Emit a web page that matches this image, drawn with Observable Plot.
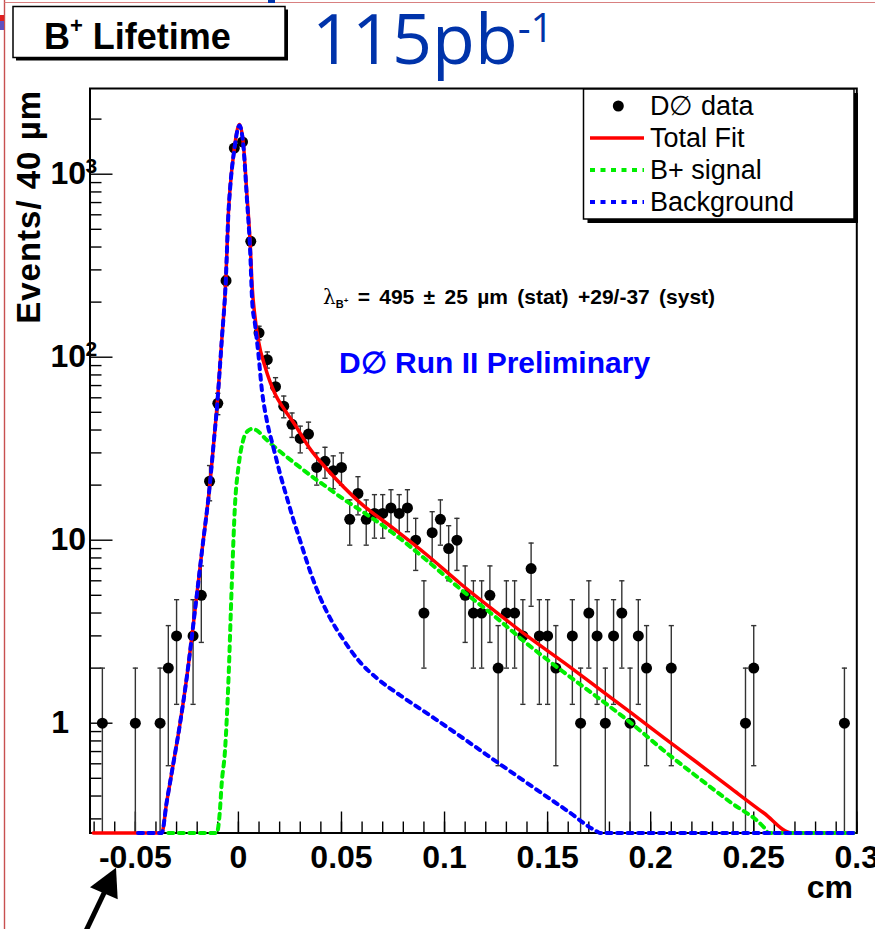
<!DOCTYPE html>
<html>
<head>
<meta charset="utf-8">
<script src="https://cdn.jsdelivr.net/npm/d3@7"></script>
<script src="https://cdn.jsdelivr.net/npm/@observablehq/plot@0.6"></script>
<style>
  html, body { margin: 0; padding: 0; background: #fff; }
  #chart { width: 875px; height: 929px; overflow: hidden; }
</style>
</head>
<body>
<div id="chart"></div>
<script>
// ---------- data ----------
// histogram bins (bin centre in cm) and counts per 40 µm
const binCenters = [-0.066, -0.050, -0.038, -0.034, -0.030, -0.022, -0.018, -0.014, -0.010, -0.006,
  -0.002, 0.002, 0.006, 0.010, 0.014, 0.018, 0.022, 0.026, 0.030, 0.034,
  0.038, 0.042, 0.046, 0.050, 0.054, 0.058, 0.062, 0.066, 0.070, 0.074,
  0.078, 0.082, 0.086, 0.090, 0.094, 0.098, 0.102, 0.106, 0.110, 0.114,
  0.118, 0.122, 0.126, 0.130, 0.134, 0.138, 0.142, 0.146, 0.150, 0.154,
  0.162, 0.166, 0.170, 0.174, 0.178, 0.182, 0.186, 0.190, 0.194, 0.198,
  0.210, 0.246, 0.250, 0.294];
const counts = [1, 1, 1, 2, 3, 3, 5, 21, 56, 262,
  1390, 1500, 430, 136, 97, 69, 54, 43, 36, 38,
  25, 27, 24, 25, 13, 18, 13, 14, 14, 15,
  14, 15, 10, 4, 11, 13, 9, 10, 5, 4,
  4, 5, 2, 4, 4, 3, 7, 3, 3, 2,
  3, 1, 4, 3, 1, 3, 4, 1, 3, 2,
  2, 1, 2, 1];

// Total fit (red)
const fitX = [-0.0704, -0.0372, -0.0348, -0.0316, -0.0283, -0.0250, -0.0210, -0.0178, -0.0137,
  -0.0121, -0.0102, -0.0081, -0.0061, -0.0049, -0.0040, -0.0021, 0.0005, 0.0024, 0.0041,
  0.0057, 0.0067, 0.0078, 0.0097, 0.0130, 0.0154, 0.0178, 0.0227, 0.0267, 0.0348,
  0.0429, 0.0591, 0.0752, 0.0915, 0.1076, 0.1238, 0.1400, 0.1578, 0.1740, 0.1901,
  0.2063, 0.2225, 0.2387, 0.2549, 0.2686, 0.2984];
const fitY = [0.25, 0.25, 0.37, 0.6, 1.0, 1.8, 4.2, 8.5, 21,
  33, 57, 123, 265, 600, 850, 1350, 1870, 1466, 781,
  420, 240, 175, 123, 88, 73, 63, 51, 44, 31.5,
  24.5, 16, 11.6, 8.3, 5.8, 4.15, 3.0, 2.15, 1.57, 1.15,
  0.835, 0.61, 0.443, 0.323, 0.25, 0.25];

// B+ signal (green)
const sigX = [-0.0340, -0.0105, -0.0091, -0.0081, -0.0065, -0.0049, -0.0032, -0.0016, 0.0000, 0.0024,
  0.0045, 0.0067, 0.0086, 0.0130, 0.0186, 0.0267, 0.0364, 0.0429, 0.0526, 0.0591,
  0.0688, 0.0752, 0.0915, 0.1076, 0.1238, 0.1400, 0.1578, 0.1740, 0.1901, 0.2063,
  0.2225, 0.2387, 0.2549, 0.2573, 0.2984];
const sigY = [0.25, 0.25, 0.32, 0.47, 0.71, 1.64, 5.8, 16, 25, 35.5,
  39.5, 40.6, 40, 36, 31.6, 26.7, 22, 19.5, 16.3, 14.6,
  12.3, 10.9, 7.74, 5.42, 3.88, 2.72, 1.9, 1.39, 1.01, 0.71,
  0.51, 0.37, 0.27, 0.25, 0.25];

// Background (blue)
const bkgX = [-0.0487, -0.0372, -0.0348, -0.0316, -0.0283, -0.0250, -0.0210, -0.0178, -0.0137,
  -0.0121, -0.0102, -0.0081, -0.0061, -0.0049, -0.0040, -0.0021, 0.0005, 0.0024, 0.0041,
  0.0057, 0.0067, 0.0081, 0.0097, 0.0114, 0.0138, 0.0170, 0.0202, 0.0235, 0.0267,
  0.0300, 0.0348, 0.0397, 0.0445, 0.0510, 0.0591, 0.0672, 0.0785, 0.0947,
  0.1109, 0.1271, 0.1432, 0.1594, 0.1740, 0.1756, 0.2984];
const bkgY = [0.25, 0.25, 0.37, 0.6, 1.0, 1.8, 4.2, 8.5, 21,
  33, 57, 123, 265, 598, 845, 1335, 1845, 1430, 742,
  380, 200, 150, 104, 66, 45, 32, 23.1, 17.1, 12.9,
  9.9, 6.75, 4.85, 3.75, 2.85, 2.15, 1.76, 1.42, 1.07,
  0.80, 0.595, 0.445, 0.333, 0.256, 0.25, 0.25];

// axes
const xTicks = [-0.05, 0, 0.05, 0.1, 0.15, 0.2, 0.25, 0.3];
const xTickLabels = ["-0.05", "0", "0.05", "0.1", "0.15", "0.2", "0.25", "0.3"];
const xMinorTicks = [-0.07, -0.06, -0.05, -0.04, -0.03, -0.02, -0.01, 0, 0.01, 0.02, 0.03, 0.04, 0.05, 0.06, 0.07, 0.08, 0.09, 0.1,
  0.11, 0.12, 0.13, 0.14, 0.15, 0.16, 0.17, 0.18, 0.19, 0.2, 0.21, 0.22, 0.23, 0.24, 0.25, 0.26, 0.27, 0.28, 0.29, 0.3];
const yTicks = [1, 10, 100, 1000];
const yTickBase = ["1", "10", "10", "10"];
const yTickExp = ["", "", "2", "3"];
const yMinorTicks = [0.3, 0.4, 0.5, 0.6, 0.7, 0.8, 0.9, 2, 3, 4, 5, 6, 7, 8, 9, 20, 30, 40, 50, 60, 70, 80, 90,
  200, 300, 400, 500, 600, 700, 800, 900, 2000];

const legendLabels = ["D\u2205 data", "Total Fit", "B+ signal", "Background"];

// ---------- build tables ----------
const points = binCenters.map((x, i) => ({x, n: counts[i], lo: counts[i] - Math.sqrt(counts[i]), hi: counts[i] + Math.sqrt(counts[i])}));
const fit = fitX.map((x, i) => ({x, y: fitY[i]}));
const sig = sigX.map((x, i) => ({x, y: sigY[i]}));
const bkg = bkgX.map((x, i) => ({x, y: bkgY[i]}));

const FONT = "'Liberation Sans', Arial, Helvetica, sans-serif";
const capSymbol = {draw(ctx, size) { const w = Math.sqrt(size / Math.PI); ctx.moveTo(-w, 0); ctx.lineTo(w, 0); }};
const baseFor = new Map(yTicks.map((t, i) => [t, yTickBase[i]]));
const expFor = new Map(yTicks.map((t, i) => [t, yTickExp[i]]));
const DASH = "5,5.5";
const DOTW = 4;

const svg = Plot.plot({
  width: 875,
  height: 929,
  marginLeft: 89.5,
  marginRight: 18.7,
  marginTop: 88,
  marginBottom: 96.5,
  style: {fontFamily: FONT, background: "white", color: "black"},
  x: {domain: [-0.072, 0.3], label: null},
  y: {type: "log", domain: [0.2512, 2940], clamp: true, label: null},
  marks: [
    Plot.frame({stroke: "black", strokeWidth: 2}),
    Plot.axisX(xMinorTicks, {anchor: "bottom", tickSize: -11, tickFormat: () => null, strokeWidth: 1.4, label: null}),
    Plot.axisX(xTicks, {anchor: "bottom", tickSize: -21, tickFormat: () => null, strokeWidth: 1.4, label: null}),
    Plot.axisX(xTicks, {anchor: "bottom", tickSize: 0, tickPadding: 12.5, tickFormat: d => xTickLabels[xTicks.indexOf(d)],
      fontSize: 32, fontWeight: "bold", fill: "black", label: null}),
    Plot.axisY(yMinorTicks, {anchor: "left", tickSize: -12, tickFormat: () => null, strokeWidth: 1.4, label: null}),
    Plot.axisY(yTicks, {anchor: "left", tickSize: -23, tickFormat: () => null, strokeWidth: 1.4, label: null}),
    Plot.axisY(yTicks.filter(t => t > 1), {anchor: "left", tickSize: 0, tickPadding: 4, tickFormat: d => baseFor.get(d),
      fontSize: 32, fontWeight: "bold", fill: "black", label: null}),
    Plot.axisY(yTicks.filter(t => t === 1), {anchor: "left", tickSize: 0, tickPadding: 21, tickFormat: d => baseFor.get(d),
      fontSize: 32, fontWeight: "bold", fill: "black", label: null}),
    Plot.text(yTicks.filter(t => expFor.get(t)), {y: d => d, text: d => expFor.get(d), frameAnchor: "left",
      dx: -4.5, dy: -8, textAnchor: "start", fontSize: 21, fontWeight: "bold", fill: "black"}),
    // data with Poisson error bars
    Plot.ruleX(points, {x: "x", y1: "lo", y2: "hi", stroke: "#333", strokeWidth: 1.4}),
    Plot.dot(points, {x: "x", y: "hi", symbol: capSymbol, r: 2.6, stroke: "#333", strokeWidth: 1.4}),
    Plot.dot(points.filter(d => d.lo > 0.26), {x: "x", y: "lo", symbol: capSymbol, r: 2.6, stroke: "#333", strokeWidth: 1.4}),
    Plot.dot(points, {x: "x", y: "n", r: 5.5, fill: "black"}),
    // fit curves
    Plot.line(fit, {x: "x", y: "y", stroke: "#ff0000", strokeWidth: 3.5, curve: "monotone-x"}),
    Plot.line(sig, {x: "x", y: "y", stroke: "#00ee00", strokeWidth: DOTW, strokeDasharray: DASH, curve: "monotone-x"}),
    Plot.line(bkg, {x: "x", y: "y", stroke: "#0000ff", strokeWidth: DOTW, strokeDasharray: DASH, curve: "monotone-x"})
  ]
});

const s = d3.select(svg);
function txt(parent, x, y, opts = {}) {
  const t = parent.append("text").attr("x", x).attr("y", y)
    .attr("text-anchor", opts.anchor || "start")
    .attr("font-family", opts.family || FONT)
    .attr("font-weight", opts.weight || "normal")
    .attr("font-size", opts.size || 20)
    .attr("fill", opts.fill || "black");
  if (opts.text) t.text(opts.text);
  return t;
}

// page decorations (borders of the original slide)
s.append("line").attr("x1", 4.5).attr("y1", 0).attr("x2", 4.5).attr("y2", 929).attr("stroke", "#c85050").attr("stroke-width", 1.4);
s.append("line").attr("x1", 4.5).attr("y1", 2.5).attr("x2", 875).attr("y2", 2.5).attr("stroke", "#d88080").attr("stroke-width", 1.2);
s.append("rect").attr("x", 0).attr("y", 15).attr("width", 4).attr("height", 6).attr("fill", "#e02020");
s.append("rect").attr("x", 0).attr("y", 21).attr("width", 4).attr("height", 9).attr("fill", "#6050c0");
s.append("rect").attr("x", 268).attr("y", 0).attr("width", 7).attr("height", 3).attr("fill", "#0033aa");

// title box
s.append("rect").attr("x", 16).attr("y", 9.5).attr("width", 272).attr("height", 51).attr("fill", "black");
s.append("rect").attr("x", 13).attr("y", 6.5).attr("width", 272).attr("height", 51).attr("fill", "white").attr("stroke", "black").attr("stroke-width", 1.5);
const t1 = txt(s, 44, 49, {weight: "bold", size: 36});
t1.append("tspan").text("B");
t1.append("tspan").attr("font-size", 22).attr("dy", -16).text("+");
t1.append("tspan").attr("font-size", 36).attr("dy", 16).text(" Lifetime");

const t2 = txt(s, 312, 64, {family: "'Open Sans', 'Noto Sans', sans-serif", size: 70, fill: "#0033aa"});
t2.append("tspan").text("115pb");
t2.append("tspan").attr("font-size", 40).attr("dy", -22).text("-1");

// y axis title
s.append("text").attr("transform", "translate(40,90) rotate(-90)").attr("text-anchor", "end")
  .attr("font-family", FONT).attr("font-weight", "bold").attr("font-size", 33).attr("letter-spacing", 1)
  .attr("fill", "black").text("Events/ 40 \u00b5m");
// x axis title
txt(s, 853, 898, {anchor: "end", weight: "bold", size: 32, text: "cm"});

// annotation
const lam = txt(s, 323, 304, {weight: "bold", size: 21}).attr("word-spacing", 3.5);
lam.append("tspan").attr("font-family", "'DejaVu Serif', 'Liberation Serif', serif").attr("font-weight", "normal").attr("font-size", 20).text("\u03bb");
lam.append("tspan").attr("font-size", 11).attr("dy", 4).text("B");
lam.append("tspan").attr("font-size", 8).attr("dy", -5).text("+");
lam.append("tspan").attr("font-size", 21).attr("dy", 1).text(" = 495 \u00b1 25 \u00b5m (stat) +29/-37 (syst)");

txt(s, 339, 373, {weight: "bold", size: 30, fill: "#0000ff", text: "D\u2205 Run II Preliminary"});

// legend
const lg = s.append("g");
lg.append("rect").attr("x", 587.5).attr("y", 93).attr("width", 270.5).attr("height", 130).attr("fill", "black");
lg.append("rect").attr("x", 583.5).attr("y", 89).attr("width", 270.5).attr("height", 130).attr("fill", "white").attr("stroke", "black").attr("stroke-width", 1.5);
const rowY = i => 106 + i * 32;
lg.append("circle").attr("cx", 618.3).attr("cy", rowY(0)).attr("r", 5.5).attr("fill", "black");
lg.append("line").attr("x1", 590).attr("x2", 644).attr("y1", rowY(1)).attr("y2", rowY(1)).attr("stroke", "#ff0000").attr("stroke-width", 3.5);
lg.append("line").attr("x1", 590).attr("x2", 644).attr("y1", rowY(2)).attr("y2", rowY(2)).attr("stroke", "#00ee00").attr("stroke-width", DOTW).attr("stroke-dasharray", DASH);
lg.append("line").attr("x1", 590).attr("x2", 644).attr("y1", rowY(3)).attr("y2", rowY(3)).attr("stroke", "#0000ff").attr("stroke-width", DOTW).attr("stroke-dasharray", DASH);
legendLabels.forEach((lab, i) => { txt(lg, 650, rowY(i) + 9, {size: 27, text: lab}); });

// arrow pointing at -0.05
s.append("line").attr("x1", 84).attr("y1", 935).attr("x2", 105).attr("y2", 891).attr("stroke", "black").attr("stroke-width", 5);
s.append("path").attr("d", "M116,867.7 L90,887.3 L117.7,899.3 Z").attr("fill", "black");

document.getElementById("chart").appendChild(svg);
</script>
</body>
</html>
